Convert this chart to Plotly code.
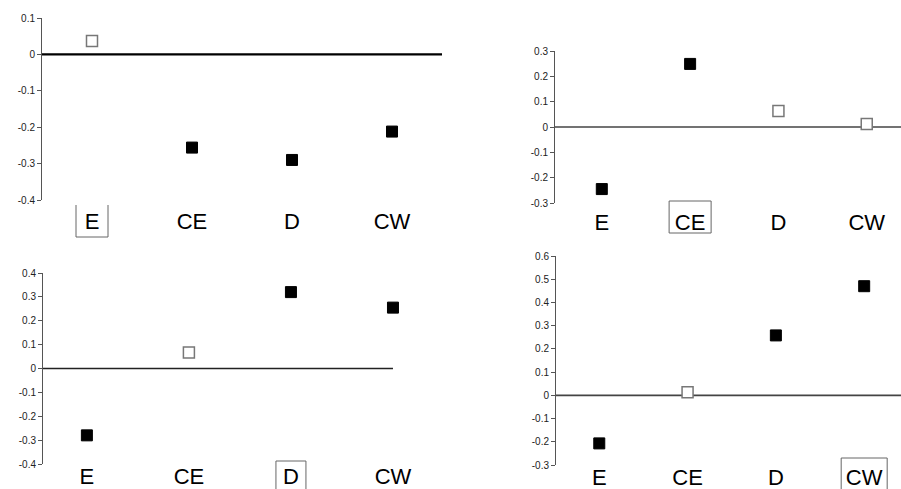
import plotly.graph_objects as go

W, H = 901, 489

categories = ["E", "CE", "D", "CW"]

p1_values = [0.037, -0.256, -0.290, -0.212]
p1_open = [True, False, False, False]
p2_values = [-0.245, 0.249, 0.063, 0.012]
p2_open = [False, False, True, True]
p3_values = [-0.280, 0.067, 0.320, 0.255]
p3_open = [False, True, False, False]
p4_values = [-0.207, 0.013, 0.258, 0.470]
p4_open = [False, True, False, False]

highlight = ["E", "CE", "D", "CW"]

p1_ticks = [0.1, 0, -0.1, -0.2, -0.3, -0.4]
p2_ticks = [0.3, 0.2, 0.1, 0, -0.1, -0.2, -0.3]
p3_ticks = [0.4, 0.3, 0.2, 0.1, 0, -0.1, -0.2, -0.3, -0.4]
p4_ticks = [0.6, 0.5, 0.4, 0.3, 0.2, 0.1, 0, -0.1, -0.2, -0.3]


def fmt(v):
    if v == 0:
        return "0"
    return "%g" % v


# layout specs (pixels)
panels = [
    dict(vals=p1_values, opn=p1_open, ticks=p1_ticks, hl=highlight[0],
         xpx=(42, 442), xr=(-0.5, 3.5), ypx=(18, 200), yr=(-0.4, 0.1),
         zl_end=None, zl_color="#000000", zl_w=2.2, standoff=6,
         box=(16, 16, 5, 37), box_open_top=True),
    dict(vals=p2_values, opn=p2_open, ticks=p2_ticks, hl=highlight[1],
         xpx=(555, 901), xr=(-0.53, 3.388), ypx=(51, 203), yr=(-0.3, 0.3),
         zl_end=None, zl_color="#444444", zl_w=1.6, standoff=4,
         box=(21, 21, -2, 30), box_open_top=False),
    dict(vals=p3_values, opn=p3_open, ticks=p3_ticks, hl=highlight[2],
         xpx=(43, 444), xr=(-0.43, 3.5), ypx=(273, 464), yr=(-0.4, 0.4),
         zl_end=3.0, zl_color="#222222", zl_w=1.3, standoff=-3,
         box=(15, 15, -3, 30), box_open_top=False),
    dict(vals=p4_values, opn=p4_open, ticks=p4_ticks, hl=highlight[3],
         xpx=(556, 901), xr=(-0.49, 3.417), ypx=(256, 465), yr=(-0.3, 0.6),
         zl_end=None, zl_color="#444444", zl_w=1.6, standoff=-3,
         box=(23, 23, -7, 30), box_open_top=False),
]

fig = go.Figure()
shapes = []
layout = {}
FONT = "Liberation Sans, Arial, sans-serif"

for i, p in enumerate(panels, start=1):
    xa = "x" if i == 1 else "x%d" % i
    ya = "y" if i == 1 else "y%d" % i
    xkey = "xaxis" if i == 1 else "xaxis%d" % i
    ykey = "yaxis" if i == 1 else "yaxis%d" % i

    xd = (p["xpx"][0] / W, p["xpx"][1] / W)
    yd = (1 - p["ypx"][1] / H, 1 - p["ypx"][0] / H)

    layout[xkey] = dict(
        domain=list(xd), range=list(p["xr"]), anchor=ya, automargin=False,
        showgrid=False, zeroline=False, showline=False, ticks="",
        tickvals=list(range(len(categories))), ticktext=categories,
        tickfont=dict(family=FONT, size=22, color="#000000"),
        ticklabelstandoff=p["standoff"], fixedrange=True,
    )
    layout[ykey] = dict(
        domain=list(yd), range=list(p["yr"]), anchor=xa, automargin=False,
        showgrid=False, zeroline=False, showline=True, linecolor="#555555",
        linewidth=1, ticks="outside", ticklen=4, tickcolor="#555555",
        tickvals=p["ticks"], ticktext=[fmt(v) for v in p["ticks"]],
        tickfont=dict(family=FONT, size=10, color="#222222"),
        fixedrange=True,
    )

    xs = list(range(len(categories)))
    fill_x = [x for x, o in zip(xs, p["opn"]) if not o]
    fill_y = [v for v, o in zip(p["vals"], p["opn"]) if not o]
    open_x = [x for x, o in zip(xs, p["opn"]) if o]
    open_y = [v for v, o in zip(p["vals"], p["opn"]) if o]

    # zero line
    if p["zl_end"] is None:
        shapes.append(dict(type="line", xref=xa + " domain", yref=ya,
                           x0=0, x1=1, y0=0, y1=0,
                           line=dict(color=p["zl_color"], width=p["zl_w"]),
                           layer="below"))
    else:
        shapes.append(dict(type="line", xref=xa, yref=ya,
                           x0=p["xr"][0], x1=p["zl_end"], y0=0, y1=0,
                           line=dict(color=p["zl_color"], width=p["zl_w"]),
                           layer="below"))

    fig.add_trace(go.Scatter(
        x=fill_x, y=fill_y, xaxis=xa, yaxis=ya, mode="markers",
        marker=dict(symbol="square", size=11, color="#000000",
                    line=dict(color="#000000", width=1)),
        showlegend=False, hoverinfo="skip", cliponaxis=False))
    fig.add_trace(go.Scatter(
        x=open_x, y=open_y, xaxis=xa, yaxis=ya, mode="markers",
        marker=dict(symbol="square", size=11, color="#ffffff",
                    line=dict(color="#777777", width=1.5)),
        showlegend=False, hoverinfo="skip", cliponaxis=False))

    # highlight box around category label
    idx = categories.index(p["hl"])
    pxu = (p["xpx"][1] - p["xpx"][0]) / (p["xr"][1] - p["xr"][0])
    bl, br, bt, bb = p["box"]
    x0 = idx - bl / pxu
    x1 = idx + br / pxu
    ytop = 1 - (p["ypx"][1] + bt) / H
    ybot = 1 - (p["ypx"][1] + bb) / H
    lc = dict(color="#666666", width=1)
    if p["box_open_top"]:
        shapes.append(dict(type="path", xref=xa, yref="paper",
                           path="M %f,%f L %f,%f L %f,%f L %f,%f" % (
                               x0, ytop, x0, ybot, x1, ybot, x1, ytop),
                           line=lc))
    else:
        shapes.append(dict(type="rect", xref=xa, yref="paper",
                           x0=x0, x1=x1, y0=ybot, y1=ytop, line=lc))

fig.update_layout(
    width=W, height=H, margin=dict(l=0, r=0, t=0, b=0, autoexpand=False),
    paper_bgcolor="#ffffff", plot_bgcolor="#ffffff",
    shapes=shapes, showlegend=False,
    font=dict(family=FONT),
    **layout,
)

fig.write_html("out.html", config={"displayModeBar": False},
               post_script="document.body.style.margin='0px';"
                           "document.body.style.padding='0px';"
                           "document.body.style.overflow='hidden';")
